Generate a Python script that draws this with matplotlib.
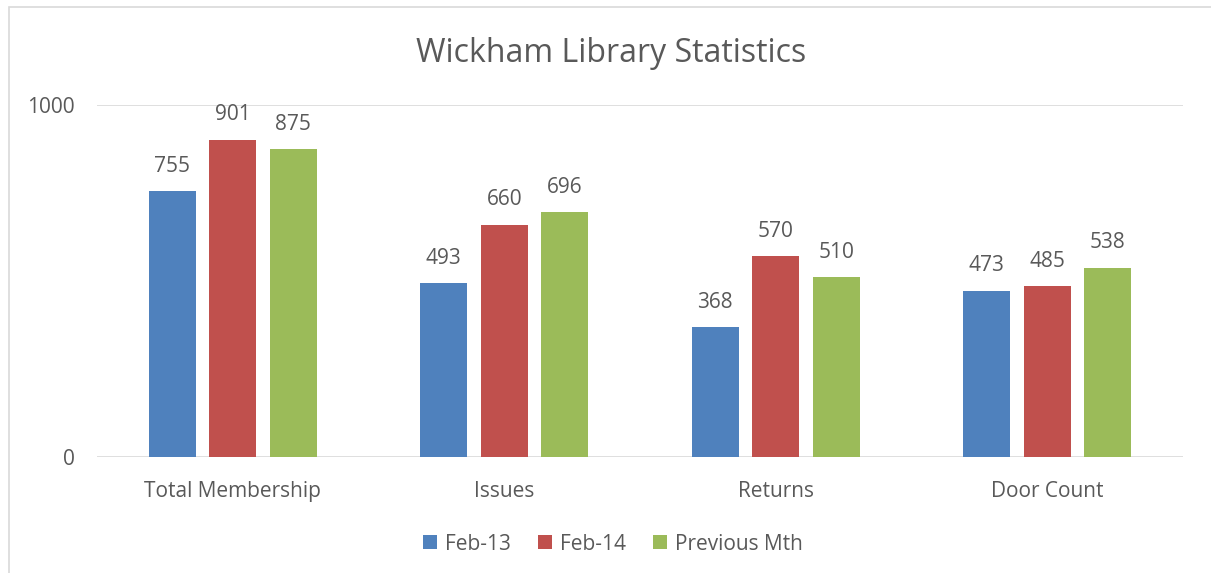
import matplotlib
matplotlib.use("Agg")
import matplotlib.pyplot as plt
from matplotlib.patches import Rectangle
import numpy as np

categories = ["Total Membership", "Issues", "Returns", "Door Count"]
series_names = ["Feb-13", "Feb-14", "Previous Mth"]
feb13 = [755, 493, 368, 473]
feb14 = [901, 660, 570, 485]
prev_mth = [875, 696, 510, 538]
colors = ["#4F81BD", "#C0504D", "#9BBB59"]

plt.rcParams['font.family'] = ['Open Sans', 'DejaVu Sans']
txt = "#595959"
fs = 15

fig = plt.figure(figsize=(12.11, 5.73), dpi=100)
fig.patch.set_facecolor("white")
W, H = 1211, 573
ax = fig.add_axes([97 / W, 1 - 457 / H, (1183 - 97) / W, (457 - 105) / H])

x = np.arange(len(categories))
bw = 0.173
step = 0.223
for i, (vals, name, c) in enumerate(zip([feb13, feb14, prev_mth], series_names, colors)):
    pos = x + (i - 1) * step
    bars = ax.bar(pos, vals, width=bw, color=c, label=name, zorder=3)
    for b, v in zip(bars, vals):
        ax.annotate(str(v), (b.get_x() + b.get_width() / 2, v), xytext=(0, 18),
                    textcoords="offset points", ha="center", va="center",
                    fontsize=fs, color=txt)

ax.set_xlim(-0.5, len(categories) - 0.5)
ax.set_ylim(0, 1000)
ax.set_yticks([0, 1000])
ax.set_yticklabels(["0", "1000"])
ax.yaxis.grid(True, color="#D9D9D9", linewidth=1.2, zorder=0)
ax.set_axisbelow(True)
ax.set_xticks(x)
ax.set_xticklabels(categories)
ax.tick_params(axis="both", length=0, labelsize=fs, labelcolor=txt)
ax.tick_params(axis="x", pad=17)
ax.tick_params(axis="y", pad=16)
for s in ax.spines.values():
    s.set_visible(False)

fig.text(611 / W, 1 - 53 / H, "Wickham Library Statistics", ha="center", va="center",
         fontsize=23, color=txt)

leg = fig.legend(loc="center", bbox_to_anchor=(613 / W, 1 - 544 / H), ncol=3, frameon=False,
                 fontsize=fs, handlelength=0.65, handleheight=0.65, handletextpad=0.4,
                 columnspacing=1.3)
for t in leg.get_texts():
    t.set_color(txt)

fig.patches.append(Rectangle((9 / W, -0.1), 1.2, 1 - 7 / H + 0.1, transform=fig.transFigure,
                             fill=False, edgecolor="#D9D9D9", linewidth=1.2))

fig.savefig("out.png", dpi=100, facecolor="white")
